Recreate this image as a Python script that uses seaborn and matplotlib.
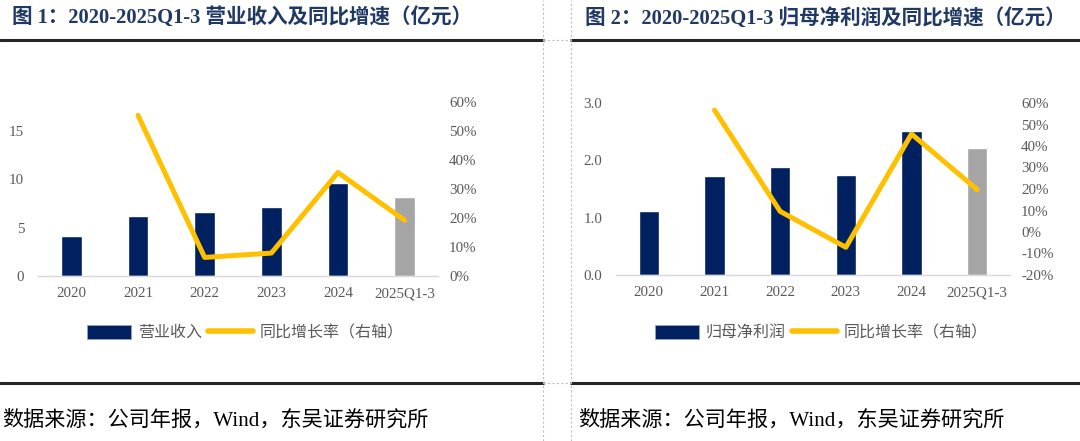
import numpy as np
import matplotlib
matplotlib.use('Agg')
import matplotlib.pyplot as plt
import seaborn as sns
from matplotlib.lines import Line2D
from matplotlib.patches import Patch
from matplotlib.ticker import FuncFormatter, MultipleLocator

# 数据
years = ['2020', '2021', '2022', '2023', '2024', '2025Q1-3']
revenue = [4.1, 6.2, 6.62, 7.14, 9.62, 8.2]            # 营业收入（亿元）
revenue_yoy = [55.4, 6.4, 7.9, 35.7, 19.2]             # 2021 起同比 %
profit = [1.12, 1.73, 1.89, 1.74, 2.52, 2.21]          # 归母净利润（亿元）
profit_yoy = [56.7, 9.6, -7.1, 45.6, 19.7]             # 2021 起同比 %
yoy_years = years[1:]

NAVY = '#002060'
GREY_BAR = '#A5A5A5'
GOLD = '#FFC000'
TICK = '#595959'
TITLE = '#1F3864'
bar_colors = [NAVY] * 5 + [GREY_BAR]

sns.set_theme(style='white')
plt.rcParams['font.family'] = ['Liberation Serif', 'Noto Sans CJK SC']
plt.rcParams['axes.unicode_minus'] = False

fig = plt.figure(figsize=(10.8, 4.41), dpi=100)
W, H = 1080, 441


def fx(px):
    return px / W


def fy(py):
    return 1 - py / H


def draw_panel(rect, values, yoy, ylim, ystep, yfmt, rlim, rstep):
    ax = fig.add_axes(rect)
    sns.barplot(x=years, y=values, hue=years, palette=bar_colors, legend=False,
                width=0.31, saturation=1, ax=ax)
    ax.set_xlim(-0.5, len(years) - 0.5)
    ax.set_ylim(*ylim)
    ax.yaxis.set_major_locator(MultipleLocator(ystep))
    ax.yaxis.set_major_formatter(FuncFormatter(yfmt))
    ax.set_xlabel('')
    ax.set_ylabel('')
    for s in ['top', 'right', 'left']:
        ax.spines[s].set_visible(False)
    ax.spines['bottom'].set_color('#D9D9D9')
    ax.spines['bottom'].set_linewidth(1.0)
    ax.tick_params(axis='x', length=0, pad=8, labelsize=10.8, labelcolor=TICK)
    ax.tick_params(axis='y', length=0, pad=10, labelsize=10.8, labelcolor=TICK)

    ax2 = ax.twinx()
    xpos = [years.index(y) for y in yoy_years]
    sns.lineplot(x=xpos, y=yoy, color=GOLD, linewidth=3.6, ax=ax2,
                 solid_capstyle='round', solid_joinstyle='round')
    ax2.set_ylim(*rlim)
    ax2.yaxis.set_major_locator(MultipleLocator(rstep))
    ax2.yaxis.set_major_formatter(FuncFormatter(lambda v, p: f'{v:.0f}%'))
    for s in ax2.spines.values():
        s.set_visible(False)
    ax2.tick_params(axis='y', length=0, pad=8, labelsize=10.8, labelcolor=TICK)
    ax2.grid(False)
    ax.grid(False)
    return ax, ax2


# 左图
draw_panel([fx(38), fy(276), fx(400), (276 - 102) / H], revenue, revenue_yoy,
           (0, 18), 5, lambda v, p: f'{v:.0f}', (0, 60), 10)
# 右图
draw_panel([fx(616), fy(275), fx(394), (275 - 103) / H], profit, profit_yoy,
           (0, 3.0), 1.0, lambda v, p: f'{v:.1f}', (-20, 60), 10)

# 标题
fig.text(fx(12), fy(18), '图 1：2020-2025Q1-3 营业收入及同比增速（亿元）',
         fontsize=14.8, fontweight='bold', color=TITLE, va='center', ha='left')
fig.text(fx(585), fy(18), '图 2：2020-2025Q1-3 归母净利润及同比增速（亿元）',
         fontsize=14.8, fontweight='bold', color=TITLE, va='center', ha='left')

# 图例
for cx, name in [(245, '营业收入'), (821, '归母净利润')]:
    handles = [Patch(facecolor=NAVY, edgecolor='#8FA3C8', linewidth=0.6),
               Line2D([0], [0], color=GOLD, linewidth=4, solid_capstyle='round')]
    fig.legend(handles, [name, '同比增长率（右轴）'], loc='center',
               bbox_to_anchor=(fx(cx), fy(333)), ncol=2, frameon=False,
               fontsize=11.5, handlelength=2.8, handleheight=1.0,
               columnspacing=0.4, handletextpad=0.4, labelcolor=TICK)

# 来源
fig.text(fx(2), fy(420), '数据来源：公司年报，Wind，东吴证券研究所',
         fontsize=15.2, color='black', va='center', ha='left')
fig.text(fx(578), fy(420), '数据来源：公司年报，Wind，东吴证券研究所',
         fontsize=15.2, color='black', va='center', ha='left')

# 表格边框
for y in [40, 383]:
    fig.add_artist(Line2D([0, fx(543)], [fy(y), fy(y)], color='#262626', linewidth=2.2))
    fig.add_artist(Line2D([fx(571), 1], [fy(y), fy(y)], color='#262626', linewidth=2.2))
    fig.add_artist(Line2D([fx(543), fx(571)], [fy(y), fy(y)], color='#BFBFBF',
                          linewidth=0.8, linestyle=(0, (2, 2))))
for x in [543, 571]:
    fig.add_artist(Line2D([fx(x), fx(x)], [0, 1], color='#BFBFBF',
                          linewidth=0.8, linestyle=(0, (2, 2))))

fig.savefig('out.png', dpi=100)
